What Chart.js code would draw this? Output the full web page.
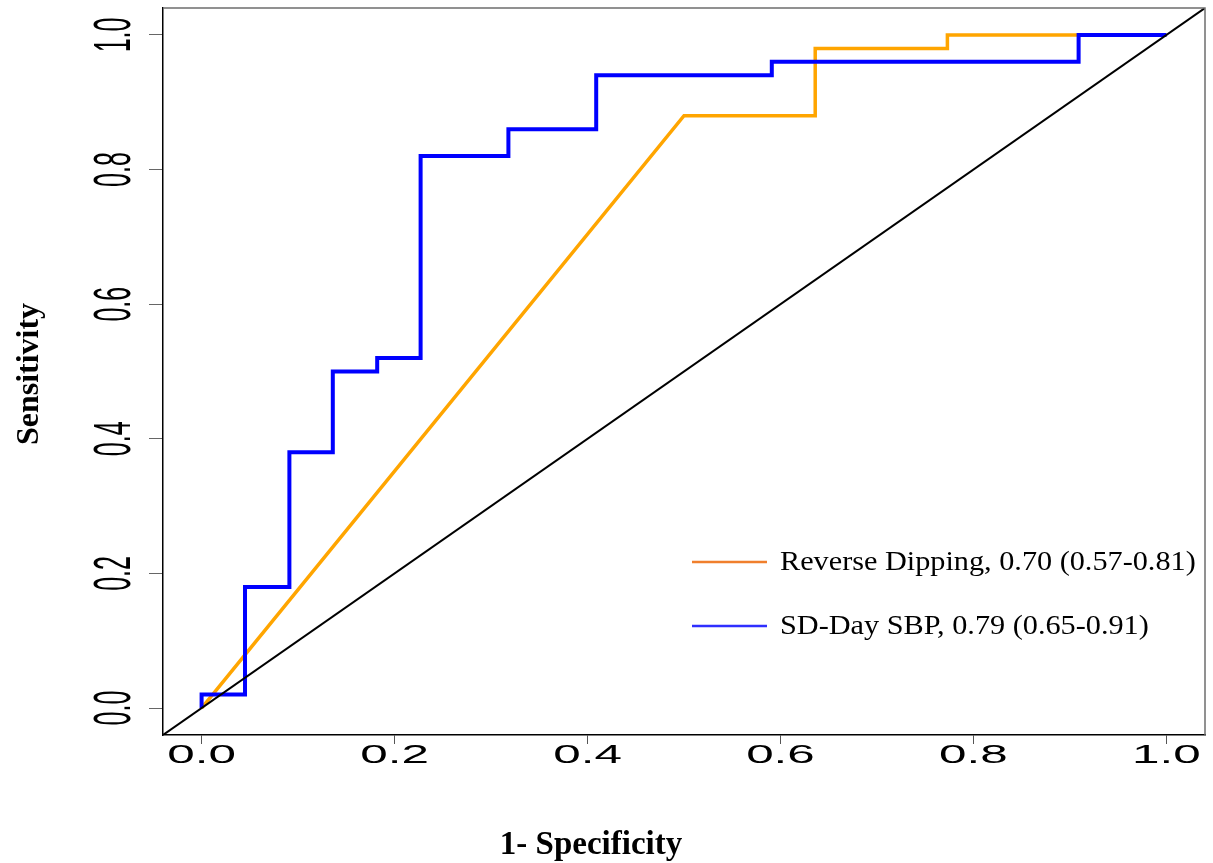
<!DOCTYPE html>
<html>
<head>
<meta charset="utf-8">
<script src="https://cdn.jsdelivr.net/npm/chart.js@4/dist/chart.umd.min.js"></script>
<style>
  html, body { margin: 0; padding: 0; background: #fff; }
  canvas { display: block; }
</style>
</head>
<body>
<canvas id="roc" width="1213" height="863"></canvas>
<script>
// ---- data ----
const xTickLabels = ['0.0', '0.2', '0.4', '0.6', '0.8', '1.0'];
const yTickLabels = ['0.0', '0.2', '0.4', '0.6', '0.8', '1.0'];
const xTitle = '1- Specificity';
const yTitle = 'Sensitivity';

const orangeLabel = 'Reverse Dipping, 0.70 (0.57-0.81)';
const orangeFpr = [0, 0.5, 0.636, 0.636, 0.773, 0.773, 1.0];
const orangeTpr = [0, 0.88, 0.88, 0.98, 0.98, 1.0, 1.0];

const blueLabel = 'SD-Day SBP, 0.79 (0.65-0.91)';
const blueFpr = [0, 0, 0.045, 0.045, 0.091, 0.091, 0.136, 0.136, 0.182, 0.182, 0.227, 0.227,
                 0.318, 0.318, 0.409, 0.409, 0.591, 0.591, 0.909, 0.909, 1.0];
const blueTpr = [0, 0.02, 0.02, 0.18, 0.18, 0.38, 0.38, 0.50, 0.50, 0.52, 0.52, 0.82,
                 0.82, 0.86, 0.86, 0.94, 0.94, 0.96, 0.96, 1.0, 1.0];

const diagX = [-0.04, 1.04];
const diagY = [-0.04, 1.04];

const pts = (xs, ys) => xs.map((x, i) => ({ x: x, y: ys[i] }));

const textPlugin = {
  id: 'textPlugin',
  afterDraw(chart) {
    const ctx = chart.ctx;
    const a = chart.chartArea;
    const xs = chart.scales.x, ys = chart.scales.y;
    ctx.save();
    // top/right box lines
    ctx.strokeStyle = '#6e6e6e';
    ctx.lineWidth = 1.5;
    ctx.beginPath();
    ctx.moveTo(a.left, a.top);
    ctx.lineTo(a.right, a.top);
    ctx.lineTo(a.right, a.bottom);
    ctx.stroke();

    ctx.fillStyle = '#000';
    // x tick labels (stretched)
    ctx.font = '26px "Liberation Sans", Arial, sans-serif';
    ctx.textAlign = 'center';
    ctx.textBaseline = 'alphabetic';
    xs.ticks.forEach(t => {
      const lab = xTickLabels.find(l => Math.abs(parseFloat(l) - t.value) < 1e-6);
      if (!lab) return;
      const px = xs.getPixelForValue(t.value);
      ctx.save();
      ctx.translate(px, 763);
      ctx.scale(1.9, 1);
      ctx.fillText(lab, 0, 0);
      ctx.restore();
    });
    // y tick labels (rotated, stretched)
    ctx.font = '25px "Liberation Sans", Arial, sans-serif';
    ys.ticks.forEach(t => {
      const lab = yTickLabels.find(l => Math.abs(parseFloat(l) - t.value) < 1e-6);
      if (!lab) return;
      const py = ys.getPixelForValue(t.value);
      ctx.save();
      ctx.translate(130, py);
      ctx.rotate(-Math.PI / 2);
      ctx.scale(1, 2.1);
      ctx.fillText(lab, 0, 0);
      ctx.restore();
    });

    // axis titles
    ctx.font = 'bold 33px "Liberation Serif", "Times New Roman", serif';
    ctx.textAlign = 'center';
    ctx.fillText(xTitle, 591, 854);
    ctx.save();
    ctx.font = 'bold 32px "Liberation Serif", "Times New Roman", serif';
    ctx.translate(38, 374);
    ctx.rotate(-Math.PI / 2);
    ctx.fillText(yTitle, 0, 0);
    ctx.restore();

    // legend
    const items = [
      { label: orangeLabel, color: '#f07f2c', y: 562 },
      { label: blueLabel, color: '#2f2fff', y: 626 }
    ];
    ctx.font = '27px "Liberation Serif", "Times New Roman", serif';
    ctx.textAlign = 'left';
    items.forEach(it => {
      ctx.strokeStyle = it.color;
      ctx.lineWidth = 2.5;
      ctx.beginPath();
      ctx.moveTo(692, it.y);
      ctx.lineTo(767, it.y);
      ctx.stroke();
      ctx.save();
      ctx.translate(780, it.y + 8);
      ctx.scale(1.12, 1);
      ctx.fillText(it.label, 0, 0);
      ctx.restore();
    });
    ctx.restore();
  }
};

new Chart(document.getElementById('roc').getContext('2d'), {
  type: 'scatter',
  data: {
    datasets: [
      { label: 'Reference', data: pts(diagX, diagY), showLine: true, borderColor: '#000000',
        borderWidth: 2, pointRadius: 0, fill: false },
      { label: blueLabel, data: pts(blueFpr, blueTpr), showLine: true, borderColor: '#0000ff',
        borderWidth: 4, pointRadius: 0, fill: false, borderJoinStyle: 'miter' },
      { label: orangeLabel, data: pts(orangeFpr, orangeTpr), showLine: true, borderColor: '#ffa500',
        borderWidth: 3.5, pointRadius: 0, fill: false, borderJoinStyle: 'miter' }
    ]
  },
  options: {
    responsive: false,
    animation: false,
    layout: { padding: { top: 8, right: 8, left: 0, bottom: 0 } },
    plugins: { legend: { display: false }, tooltip: { enabled: false } },
    scales: {
      x: {
        type: 'linear', min: -0.04, max: 1.04,
        afterFit(s) { s.height = 128; },
        grid: { display: true, drawOnChartArea: false, drawTicks: true, tickLength: 9, color: '#555', lineWidth: 1 },
        border: { display: true, color: '#000', width: 1.5 },
        ticks: { display: false, stepSize: 0.2, includeBounds: false }
      },
      y: {
        type: 'linear', min: -0.04, max: 1.04,
        afterFit(s) { s.width = 163; },
        grid: { display: true, drawOnChartArea: false, drawTicks: true, tickLength: 14, color: '#666', lineWidth: 1 },
        border: { display: true, color: '#000', width: 1.5 },
        ticks: { display: false, stepSize: 0.2, includeBounds: false }
      }
    }
  },
  plugins: [textPlugin]
});
</script>
</body>
</html>
